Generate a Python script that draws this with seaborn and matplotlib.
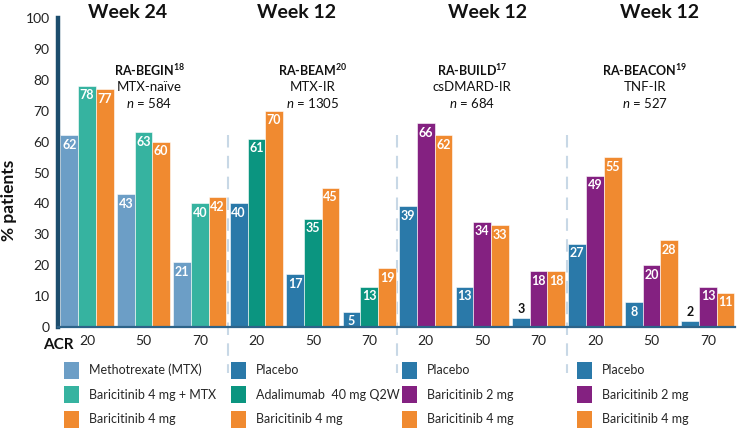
import pandas as pd
import matplotlib.pyplot as plt
import matplotlib.patches as mpatches
import matplotlib.transforms as mtransforms
import seaborn as sns

# --- dati ---
acr_levels = ['20', '50', '70']
weeks = ['Week 24', 'Week 12', 'Week 12', 'Week 12']
studies = ['RA-BEGIN', 'RA-BEAM', 'RA-BUILD', 'RA-BEACON']
refs = ['18', '20', '17', '19']
populations = ['MTX-naïve', 'MTX-IR', 'csDMARD-IR', 'TNF-IR']
n_patients = [584, 1305, 684, 527]

begin_arms = ['Methotrexate (MTX)', 'Baricitinib 4 mg + MTX', 'Baricitinib 4 mg']
begin_vals = [[62, 43, 21], [78, 63, 40], [77, 60, 42]]

beam_arms = ['Placebo', 'Adalimumab  40 mg Q2W', 'Baricitinib 4 mg']
beam_vals = [[40, 17, 5], [61, 35, 13], [70, 45, 19]]

build_arms = ['Placebo', 'Baricitinib 2 mg', 'Baricitinib 4 mg']
build_vals = [[39, 13, 3], [66, 34, 18], [62, 33, 18]]

beacon_arms = ['Placebo', 'Baricitinib 2 mg', 'Baricitinib 4 mg']
beacon_vals = [[27, 8, 2], [49, 20, 13], [55, 28, 11]]

arm_colors = {
    'Methotrexate (MTX)': '#6c9ec6',
    'Baricitinib 4 mg + MTX': '#36b3a0',
    'Baricitinib 4 mg': '#f08a30',
    'Placebo': '#2a79a9',
    'Adalimumab  40 mg Q2W': '#0b9580',
    'Baricitinib 2 mg': '#842181',
}

all_arms = [begin_arms, beam_arms, build_arms, beacon_arms]
all_vals = [begin_vals, beam_vals, build_vals, beacon_vals]

# tabella lunga: una riga per barra
rows = []
for s, (arms, vals) in enumerate(zip(all_arms, all_vals)):
    for arm, series in zip(arms, vals):
        for k, v in enumerate(series):
            rows.append({'study': s, 'pos': s * 3 + k, 'arm': arm, 'pct': v})
df = pd.DataFrame(rows)

# --- stile ---
sns.set_style("white")
plt.rcParams['font.family'] = ['Lato', 'DejaVu Sans']
plt.rcParams['mathtext.fontset'] = 'custom'
plt.rcParams['mathtext.rm'] = 'Lato'
plt.rcParams['mathtext.it'] = 'Lato:italic'
plt.rcParams['mathtext.bf'] = 'Lato:bold'

fig = plt.figure(figsize=(7.4, 4.3), dpi=100)
ax = fig.add_axes([58 / 740, 1 - 327 / 430, (735 - 58) / 740, 309 / 430])

positions = list(range(12))
for s, arms in enumerate(all_arms):
    sub = df[df['study'] == s]
    sns.barplot(data=sub, x='pos', y='pct', hue='arm', order=positions,
                hue_order=arms, palette={a: arm_colors[a] for a in arms},
                saturation=1, width=0.94, dodge=True, edgecolor='white',
                linewidth=0.4, legend=False, ax=ax)

# etichette dei valori
for p in ax.patches:
    h = p.get_height()
    if h is None or h != h or h <= 0:
        continue
    xc = p.get_x() + p.get_width() / 2
    if h < 4:
        ax.annotate(f'{int(round(h))}', (xc, h), xytext=(0, 2), textcoords='offset points',
                    ha='center', va='bottom', fontsize=9, fontweight='bold', color='#111111')
    else:
        ax.annotate(f'{int(round(h))}', (xc, h), xytext=(0, -2.5), textcoords='offset points',
                    ha='center', va='top', fontsize=9, fontweight='bold', color='white')

ax.set_ylim(0, 100)
ax.set_xlim(-0.514, 11.48)
ax.set_yticks(range(0, 101, 10))
ax.set_xticks(positions)
ax.set_xticklabels(acr_levels * 4)
ax.tick_params(axis='both', length=0, labelsize=10, colors='#222222', pad=6)
ax.set_xlabel('')
ax.set_ylabel('% patients', fontsize=12.5, fontweight='bold', color='#111111')
ax.yaxis.set_label_coords(-0.06, 0.41)

for side in ['top', 'right']:
    ax.spines[side].set_visible(False)
ax.spines['left'].set_color('#1c4d6d')
ax.spines['left'].set_linewidth(3.2)
ax.spines['bottom'].set_color('#2d6389')
ax.spines['bottom'].set_linewidth(1.6)

# separatori tratteggiati tra gli studi
for xs in [2.5, 5.5, 8.5]:
    ax.plot([xs, xs], [62, -15], color='#c8d8e6', lw=1.5, dashes=(6, 4), clip_on=False, zorder=0)

# etichetta ACR
trans = mtransforms.blended_transform_factory(ax.transData, ax.transAxes)
ax.text(-0.51, -0.058, 'ACR', transform=trans, ha='center', va='center',
        fontsize=11, fontweight='bold', color='#111111')

# titoli settimana
week_trans = mtransforms.blended_transform_factory(ax.transData, fig.transFigure)
week_x = [0.71, 3.72, 7.10, 10.15]
for wx, w in zip(week_x, weeks):
    ax.text(wx, 1 - 17.5 / 430, w, transform=week_trans, ha='center', va='baseline',
            fontsize=14, fontweight='bold', color='#111111', clip_on=False)

# info studio
study_x = [1.10, 4.0, 6.82, 9.88]
for sx, st, rf, pop, n in zip(study_x, studies, refs, populations, n_patients):
    ax.text(sx, 83.2, st + r'$^{\mathbf{' + rf + '}}$', ha='center', va='center',
            fontsize=9, fontweight='bold', color='#111111')
    ax.text(sx, 77.7, pop, ha='center', va='center', fontsize=9.5, color='#111111')
    ax.text(sx, 72.6, r'$n$' + f' = {n}', ha='center', va='center', fontsize=9.5, color='#111111')

# legende sotto l'asse
legend_x = [64, 231, 402, 577]
for lx, arms in zip(legend_x, all_arms):
    handles = [mpatches.Patch(facecolor=arm_colors[a], edgecolor='none', label=a) for a in arms]
    fig.legend(handles=handles, loc='upper left', bbox_to_anchor=(lx / 740, 1 - 362 / 430),
               frameon=False, fontsize=9, handlelength=1.2, handleheight=1.7,
               labelspacing=0.6, handletextpad=0.8, borderpad=0, borderaxespad=0)

plt.savefig('out.png', dpi=100)
plt.close()
